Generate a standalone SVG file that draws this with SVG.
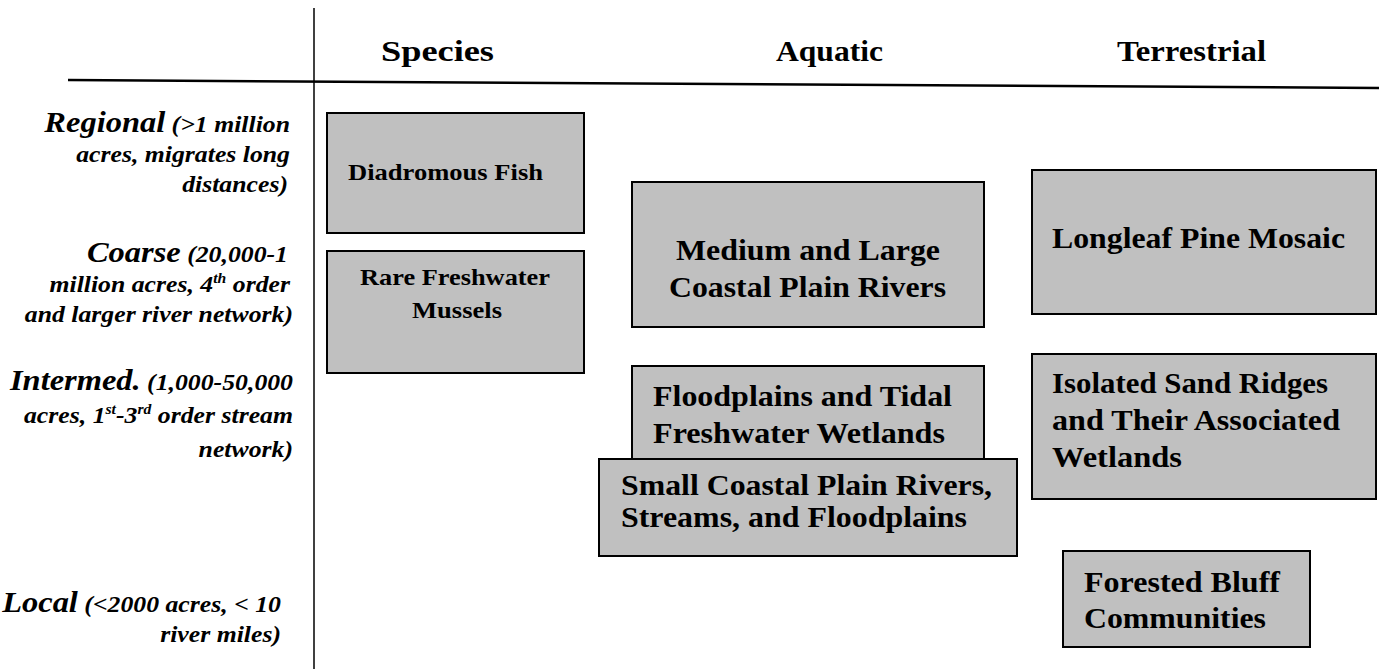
<svg xmlns="http://www.w3.org/2000/svg" width="1379" height="669" viewBox="0 0 1379 669">
<style>
.box{fill:#c0c0c0;stroke:#000;stroke-width:2}
.t{font-family:"Liberation Serif","Times New Roman",serif;font-weight:bold;fill:#000}
.bt{font-size:30px}
.st{font-size:24px}
.hd{font-size:30px}
.lb{font-style:italic;text-anchor:end}
.big{font-size:29px}
.sm{font-size:23px}
.sup{font-size:14px}
</style>
<g id="axes" stroke="#000" fill="none">
<line x1="314" y1="8" x2="314" y2="669" stroke-width="1.5"/>
<line x1="68" y1="80" x2="1379" y2="88" stroke-width="2.5"/>
</g>
<g id="headers" class="t hd">
<text x="381" y="61" textLength="113" lengthAdjust="spacingAndGlyphs">Species</text>
<text x="776" y="61" textLength="107" lengthAdjust="spacingAndGlyphs">Aquatic</text>
<text x="1117" y="61" textLength="149" lengthAdjust="spacingAndGlyphs">Terrestrial</text>
</g>
<g id="scales" class="t lb">
<text transform="translate(290,132) scale(1.12,1)"><tspan class="big">Regional</tspan><tspan class="sm"> (&gt;1 million</tspan></text>
<text transform="translate(290,162) scale(1.12,1)" class="sm">acres, migrates long</text>
<text transform="translate(288,192) scale(1.12,1)" class="sm">distances)</text>
<text transform="translate(288,262) scale(1.12,1)"><tspan class="big">Coarse</tspan><tspan class="sm"> (20,000-1</tspan></text>
<text transform="translate(290,292) scale(1.12,1)" class="sm">million acres, 4<tspan class="sup" dy="-9">th</tspan><tspan dy="9"> order</tspan></text>
<text transform="translate(293,322) scale(1.12,1)" class="sm">and larger river network)</text>
<text transform="translate(293,390) scale(1.12,1)"><tspan class="big">Intermed.</tspan><tspan class="sm"> (1,000-50,000</tspan></text>
<text transform="translate(293,423) scale(1.12,1)" class="sm">acres, 1<tspan class="sup" dy="-9">st</tspan><tspan dy="9">-3</tspan><tspan class="sup" dy="-9">rd</tspan><tspan dy="9"> order stream</tspan></text>
<text transform="translate(293,457) scale(1.12,1)" class="sm">network)</text>
<text transform="translate(281,612) scale(1.12,1)"><tspan class="big">Local</tspan><tspan class="sm"> (&lt;2000 acres, &lt; 10</tspan></text>
<text transform="translate(281,642) scale(1.12,1)" class="sm">river miles)</text>
</g>
<g id="diadromous">
<rect class="box" x="327" y="113" width="257" height="120"/>
<text class="t st" x="348" y="180" textLength="195" lengthAdjust="spacingAndGlyphs">Diadromous Fish</text>
</g>
<g id="mussels">
<rect class="box" x="327" y="251" width="257" height="122"/>
<text class="t st" x="360" y="285" textLength="190" lengthAdjust="spacingAndGlyphs">Rare Freshwater</text>
<text class="t st" x="412" y="318" textLength="90" lengthAdjust="spacingAndGlyphs">Mussels</text>
</g>
<g id="medium-large">
<rect class="box" x="632" y="182" width="352" height="145"/>
<text class="t bt" x="676" y="260" textLength="264" lengthAdjust="spacingAndGlyphs">Medium and Large</text>
<text class="t bt" x="669" y="297" textLength="277" lengthAdjust="spacingAndGlyphs">Coastal Plain Rivers</text>
</g>
<g id="floodplains">
<rect class="box" x="632" y="366" width="352" height="100"/>
<text class="t bt" x="653" y="406" textLength="299" lengthAdjust="spacingAndGlyphs">Floodplains and Tidal</text>
<text class="t bt" x="653" y="443" textLength="292" lengthAdjust="spacingAndGlyphs">Freshwater Wetlands</text>
</g>
<g id="small-rivers">
<rect class="box" x="599" y="459" width="418" height="97"/>
<text class="t bt" x="621" y="495" textLength="371" lengthAdjust="spacingAndGlyphs">Small Coastal Plain Rivers,</text>
<text class="t bt" x="621" y="527" textLength="346" lengthAdjust="spacingAndGlyphs">Streams, and Floodplains</text>
</g>
<g id="longleaf">
<rect class="box" x="1032" y="170" width="344" height="144"/>
<text class="t bt" x="1052" y="248" textLength="293" lengthAdjust="spacingAndGlyphs">Longleaf Pine Mosaic</text>
</g>
<g id="sand-ridges">
<rect class="box" x="1032" y="354" width="344" height="145"/>
<text class="t bt" x="1052" y="393" textLength="276" lengthAdjust="spacingAndGlyphs">Isolated Sand Ridges</text>
<text class="t bt" x="1052" y="430" textLength="288" lengthAdjust="spacingAndGlyphs">and Their Associated</text>
<text class="t bt" x="1052" y="467" textLength="130" lengthAdjust="spacingAndGlyphs">Wetlands</text>
</g>
<g id="bluff">
<rect class="box" x="1063" y="551" width="247" height="96"/>
<text class="t bt" x="1084" y="592" textLength="196" lengthAdjust="spacingAndGlyphs">Forested Bluff</text>
<text class="t bt" x="1084" y="628" textLength="182" lengthAdjust="spacingAndGlyphs">Communities</text>
</g>
</svg>
